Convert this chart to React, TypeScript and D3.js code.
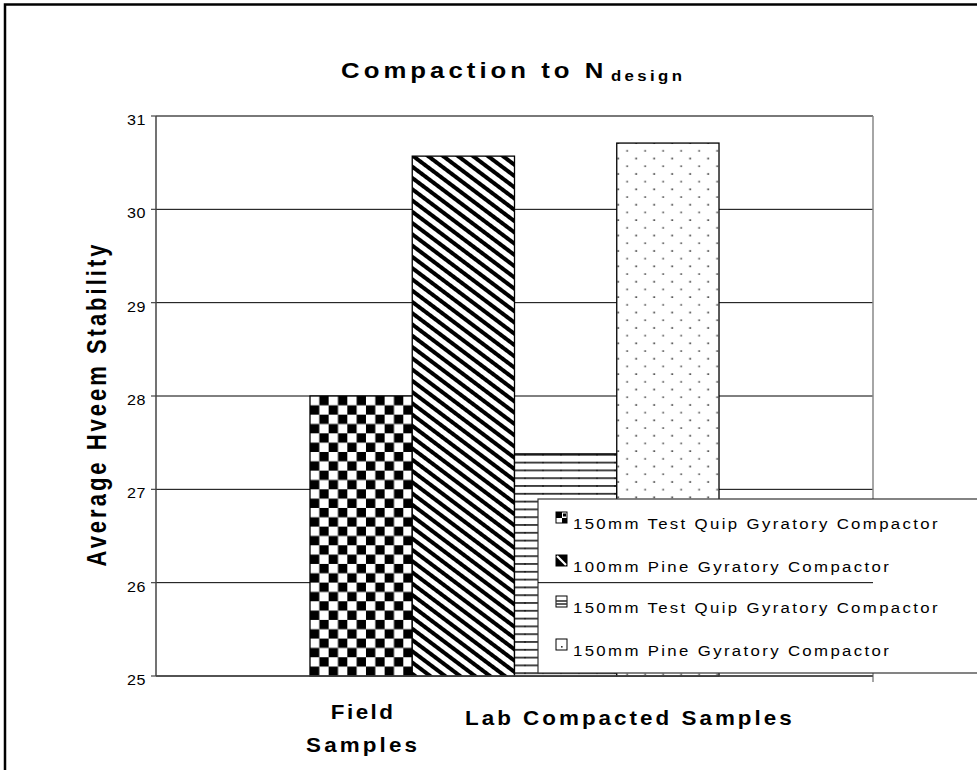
import React from "react";
import * as d3 from "d3";

// Chart data
const categories = ["Ndesign"];
const seriesNames = [
  "150mm Test Quip Gyratory Compactor",
  "100mm Pine Gyratory Compactor",
  "150mm Test Quip Gyratory Compactor",
  "150mm Pine Gyratory Compactor",
];
const seriesValues = [28.0, 30.57, 27.38, 30.71];
const yTicks = [25, 26, 27, 28, 29, 30, 31];
const fieldLabel = ["Field", "Samples"];
const labLabel = "Lab Compacted Samples";

const W = 977;
const H = 770;
const plot = { left: 156, right: 873, top: 116, bottom: 676 };
const FONT = "'Liberation Sans', Arial, Helvetica, sans-serif";
const patternIds = ["pat-checker", "pat-diag", "pat-hlines", "pat-dots"];
// the chart's lettering is drawn slightly widened
const SX = 1.12;

type WideTextProps = {
  x: number;
  y: number;
  size: number;
  bold?: boolean;
  spacing?: number;
  anchor?: "start" | "middle" | "end";
  sx?: number;
  children: React.ReactNode;
};

function WideText({ x, y, size, bold, spacing = 0, anchor = "start", sx = SX, children }: WideTextProps) {
  return (
    <text
      transform={`translate(${x},${y}) scale(${sx},1)`}
      fontSize={size}
      fontWeight={bold ? "bold" : "normal"}
      letterSpacing={spacing}
      textAnchor={anchor}
      fill="#000"
    >
      {children}
    </text>
  );
}

export default function App() {
  const y = d3.scaleLinear().domain([25, 31]).range([plot.bottom, plot.top]);
  const xGroup = d3
    .scaleBand<string>()
    .domain(categories)
    .range([plot.left, plot.right])
    .paddingInner(0)
    .paddingOuter(0.3765);
  const xSeries = d3
    .scaleBand<number>()
    .domain(d3.range(seriesNames.length))
    .range([0, xGroup.bandwidth()]);

  const g0 = xGroup(categories[0]) as number;
  const barX = (i: number) => g0 + (xSeries(i) as number);
  const bw = xSeries.bandwidth();

  const legend = { x: 538, y: 499, w: 460, h: 174 };
  const legendRowY = [529, 572, 613, 656];

  return (
    <svg
      width={W}
      height={H}
      style={{ position: "absolute", left: 0, top: 0, background: "#fff" }}
      fontFamily={FONT}
    >
      <defs>
        {/* checkerboard, anchored to the first bar */}
        <pattern
          id="pat-checker"
          patternUnits="userSpaceOnUse"
          width={18.66}
          height={18.66}
          x={barX(0)}
          y={y(seriesValues[0])}
        >
          <rect width={18.66} height={18.66} fill="#fff" />
          <rect x={9.33} y={0} width={9.33} height={9.33} fill="#000" />
          <rect x={0} y={9.33} width={9.33} height={9.33} fill="#000" />
        </pattern>
        {/* wide downward diagonal stripes */}
        <pattern
          id="pat-diag"
          patternUnits="userSpaceOnUse"
          width={9}
          height={9}
          patternTransform="rotate(37)"
        >
          <rect width={9} height={9} fill="#fff" />
          <rect width={9} height={4} fill="#000" />
        </pattern>
        {/* horizontal lines */}
        <pattern
          id="pat-hlines"
          patternUnits="userSpaceOnUse"
          width={18}
          height={7.8}
          x={barX(2)}
          y={y(seriesValues[2])}
        >
          <rect width={18} height={7.8} fill="#fff" />
          <rect y={0} width={18} height={1.8} fill="#333" />
          <rect x={10} y={0} width={1} height={1.8} fill="#000" />
        </pattern>
        {/* sparse dots */}
        <pattern
          id="pat-dots"
          patternUnits="userSpaceOnUse"
          width={18}
          height={15.4}
          x={barX(3)}
          y={y(seriesValues[3])}
        >
          <rect width={18} height={15.4} fill="#fff" />
          <rect x={0.6} y={-0.7} width={1.6} height={1.6} fill="#222" />
          <rect x={9.6} y={7} width={1.6} height={1.6} fill="#444" />
          <rect x={0.6} y={14.7} width={1.6} height={1.6} fill="#222" />
        </pattern>
        <clipPath id="legend-clip">
          <rect x={legend.x} y={legend.y} width={legend.w} height={legend.h} />
        </clipPath>
      </defs>

      {/* outer frame */}
      <path d={`M5,${H + 5} L5,4.5 L${W + 5},4.5`} fill="none" stroke="#000" strokeWidth={2.5} />

      {/* title */}
      <WideText x={341} y={78} size={23} bold spacing={3.6}>
        Compaction to N
      </WideText>
      <WideText x={611} y={81} size={15} bold spacing={3}>
        design
      </WideText>

      {/* gridlines */}
      {yTicks.map((t) => (
        <line key={`g${t}`} x1={plot.left} x2={plot.right} y1={y(t)} y2={y(t)} stroke="#000" strokeWidth={1} />
      ))}
      {/* plot border */}
      <line x1={plot.left} x2={plot.right} y1={plot.top} y2={plot.top} stroke="#777" strokeWidth={1.5} />
      <line x1={plot.right} x2={plot.right} y1={plot.top} y2={plot.bottom + 6} stroke="#888" strokeWidth={1.5} />

      {/* bars */}
      {seriesValues.map((v, i) => (
        <rect
          key={`b${i}`}
          x={barX(i)}
          y={y(v)}
          width={bw}
          height={y(25) - y(v)}
          fill={`url(#${patternIds[i]})`}
          stroke="#000"
          strokeWidth={1.3}
        />
      ))}

      {/* axes */}
      <line x1={plot.left} x2={plot.right} y1={plot.bottom} y2={plot.bottom} stroke="#444" strokeWidth={1.5} />
      <line x1={plot.left} x2={plot.left} y1={plot.top} y2={plot.bottom} stroke="#444" strokeWidth={1.5} />
      {yTicks.map((t) => (
        <g key={`t${t}`}>
          <line x1={plot.left - 5} x2={plot.left} y1={y(t)} y2={y(t)} stroke="#444" strokeWidth={1.2} />
          <WideText x={146} y={y(t) + 9} size={14} anchor="end" sx={1.15} spacing={0.5}>
            {t}
          </WideText>
        </g>
      ))}

      {/* y axis title */}
      <text
        transform={`translate(106, 404) scale(1.26,1) rotate(-90)`}
        fontSize={22}
        fontWeight="bold"
        letterSpacing={3}
        textAnchor="middle"
        fill="#000"
      >
        Average Hveem Stability
      </text>

      {/* category labels */}
      <WideText x={barX(0) + bw / 2 + 2} y={719} size={20} bold spacing={2.2} anchor="middle">
        {fieldLabel[0]}
      </WideText>
      <WideText x={barX(0) + bw / 2 + 2} y={752} size={20} bold spacing={2.8} anchor="middle">
        {fieldLabel[1]}
      </WideText>
      <WideText x={465} y={725} size={20} bold spacing={2.7}>
        {labLabel}
      </WideText>

      {/* legend */}
      <rect x={legend.x} y={legend.y} width={legend.w} height={legend.h} fill="#fff" stroke="#333" strokeWidth={1.2} />
      <line
        x1={plot.left}
        x2={plot.right}
        y1={y(26)}
        y2={y(26)}
        stroke="#000"
        strokeWidth={1}
        clipPath="url(#legend-clip)"
      />
      {seriesNames.map((name, i) => {
        const ry = legendRowY[i];
        const ix = 556;
        const iy = ry - 17;
        return (
          <g key={`l${i}`}>
            <rect x={ix} y={iy} width={11} height={11} fill="#fff" stroke="#000" strokeWidth={1} />
            {i === 0 && (
              <>
                <rect x={ix} y={iy} width={6} height={6} fill="#000" />
                <rect x={ix + 6} y={iy + 6} width={5} height={5} fill="#000" />
                <rect x={ix + 7} y={iy + 1.5} width={3} height={3} fill="#000" />
              </>
            )}
            {i === 1 && (
              <>
                <rect x={ix} y={iy} width={11} height={11} fill="#000" />
                <line x1={ix + 1} y1={iy + 1} x2={ix + 10} y2={iy + 10} stroke="#fff" strokeWidth={2.2} />
              </>
            )}
            {i === 2 && (
              <>
                <line x1={ix} x2={ix + 11} y1={iy + 5} y2={iy + 5} stroke="#333" strokeWidth={1.6} />
                <line x1={ix} x2={ix + 11} y1={iy + 8} y2={iy + 8} stroke="#333" strokeWidth={1.6} />
              </>
            )}
            {i === 3 && <rect x={ix + 5} y={iy + 7} width={1.6} height={1.6} fill="#333" />}
            <WideText x={573} y={ry} size={15} spacing={2.1}>
              {name}
            </WideText>
          </g>
        );
      })}
    </svg>
  );
}
